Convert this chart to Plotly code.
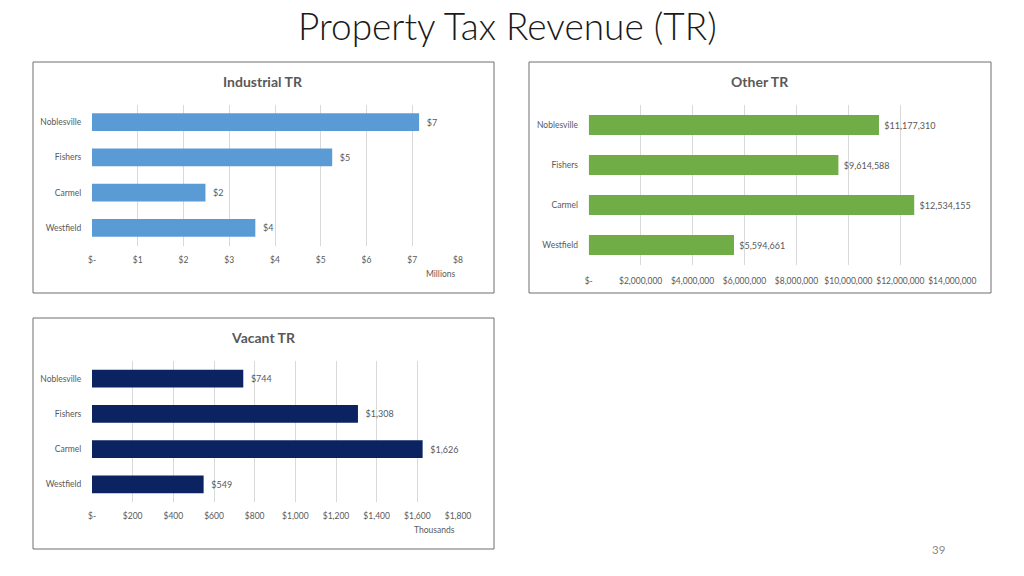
import plotly.graph_objects as go

W, H = 1024, 576

cities = ["Noblesville", "Fishers", "Carmel", "Westfield"]
industrial_millions = [7.15, 5.25, 2.48, 3.57]
other_dollars = [11177310, 9614588, 12534155, 5594661]
vacant_thousands = [744, 1308, 1626, 549]

ind_ticks = [0, 1, 2, 3, 4, 5, 6, 7, 8]
ind_ticktext = ["$-", "$1", "$2", "$3", "$4", "$5", "$6", "$7", "$8"]
oth_ticks = [0, 2e6, 4e6, 6e6, 8e6, 10e6, 12e6, 14e6]
oth_ticktext = ["$-", "$2,000,000", "$4,000,000", "$6,000,000", "$8,000,000",
                "$10,000,000", "$12,000,000", "$14,000,000"]
vac_ticks = [0, 200, 400, 600, 800, 1000, 1200, 1400, 1600, 1800]
vac_ticktext = ["$-", "$200", "$400", "$600", "$800", "$1,000", "$1,200",
                "$1,400", "$1,600", "$1,800"]

FONT = "Lato"
GRAY = "#595959"
GRID = "#d9d9d9"


def px(x):
    return x / W


def py(y):
    return 1 - y / H


fig = go.Figure()

panels = [
    dict(vals=industrial_millions, color="#5B9BD5", tmpl="\u00a0\u00a0$%{x:.0f}",
         xa="x", ya="y", xd=(92, 458), yd=(104.5, 245.5), rng=[0, 8],
         tv=ind_ticks, tt=ind_ticktext, tl=6),
    dict(vals=other_dollars, color="#70AD47", tmpl="\u00a0$%{x:,.0f}",
         xa="x2", ya="y2", xd=(588.7, 952.3), yd=(105, 265), rng=[0, 14e6],
         tv=oth_ticks, tt=oth_ticktext, tl=8),
    dict(vals=vacant_thousands, color="#0B2461", tmpl="\u00a0\u00a0$%{x:,.0f}",
         xa="x3", ya="y3", xd=(92, 458), yd=(361, 502), rng=[0, 1800],
         tv=vac_ticks, tt=vac_ticktext, tl=6),
]

layout_axes = {}
for i, p in enumerate(panels):
    fig.add_trace(go.Bar(
        x=p["vals"], y=cities, orientation="h", xaxis=p["xa"], yaxis=p["ya"],
        marker=dict(color=p["color"], line=dict(width=0)),
        width=0.5, texttemplate=p["tmpl"], textposition="outside",
        cliponaxis=False, textfont=dict(family=FONT, size=9, color=GRAY),
        showlegend=False, hoverinfo="skip",
    ))
    sfx = "" if i == 0 else str(i + 1)
    layout_axes["xaxis" + sfx] = dict(
        domain=[px(p["xd"][0]), px(p["xd"][1])], range=p["rng"],
        anchor=p["ya"], tickvals=p["tv"], ticktext=p["tt"], tickangle=0,
        showgrid=True, gridcolor=GRID, gridwidth=1, zeroline=False,
        showline=False, ticks="outside", ticklen=p["tl"], tickcolor="rgba(0,0,0,0)",
        tickfont=dict(family=FONT, size=8.5, color=GRAY),
        fixedrange=True, automargin=False,
    )
    layout_axes["yaxis" + sfx] = dict(
        domain=[py(p["yd"][1]), py(p["yd"][0])], anchor=p["xa"],
        categoryorder="array", categoryarray=cities, autorange="reversed",
        showgrid=False, zeroline=False, showline=False,
        ticks="outside", ticklen=8, tickcolor="rgba(0,0,0,0)",
        tickfont=dict(family=FONT, size=8.5, color=GRAY), fixedrange=True,
        automargin=False,
    )

fig.update_layout(**layout_axes)

shapes = []
for (x0, y0, x1, y1) in [(33, 62, 494, 293), (529, 62, 991, 293), (33, 318, 494, 549)]:
    shapes.append(dict(type="rect", xref="paper", yref="paper",
                       x0=px(x0), x1=px(x1), y0=py(y1), y1=py(y0),
                       line=dict(color="#6e6e6e", width=1), fillcolor="rgba(0,0,0,0)",
                       layer="below"))

annotations = [
    dict(text="Property Tax Revenue (TR)", x=px(507), y=py(26), xref="paper", yref="paper",
         showarrow=False, font=dict(family=FONT, size=37, color="#1a1a1a", weight=300),
         xanchor="center", yanchor="middle"),
    dict(text="<b>Industrial TR</b>", x=px(263), y=py(81), xref="paper", yref="paper",
         showarrow=False, font=dict(family=FONT, size=14, color=GRAY),
         xanchor="center", yanchor="middle"),
    dict(text="<b>Other TR</b>", x=px(760), y=py(81), xref="paper", yref="paper",
         showarrow=False, font=dict(family=FONT, size=14, color=GRAY),
         xanchor="center", yanchor="middle"),
    dict(text="<b>Vacant TR</b>", x=px(263), y=py(337), xref="paper", yref="paper",
         showarrow=False, font=dict(family=FONT, size=14, color=GRAY),
         xanchor="center", yanchor="middle"),
    dict(text="Millions", x=px(440), y=py(274), xref="paper", yref="paper",
         showarrow=False, font=dict(family=FONT, size=8.5, color=GRAY),
         xanchor="center", yanchor="middle"),
    dict(text="Thousands", x=px(434), y=py(530), xref="paper", yref="paper",
         showarrow=False, font=dict(family=FONT, size=8.5, color=GRAY),
         xanchor="center", yanchor="middle"),
    dict(text="39", x=px(938), y=py(549), xref="paper", yref="paper",
         showarrow=False, font=dict(family=FONT, size=11.5, color="#8a8a8a"),
         xanchor="center", yanchor="middle"),
]

fig.update_layout(
    width=W, height=H, margin=dict(l=0, r=0, t=0, b=0, autoexpand=False),
    paper_bgcolor="white", plot_bgcolor="white",
    shapes=shapes, annotations=annotations, bargap=0.5,
    font=dict(family=FONT, color=GRAY),
)

fig.write_html(
    "out.html",
    config={"displayModeBar": False, "staticPlot": True},
    post_script="document.body.style.margin='0';document.body.style.overflow='hidden';",
)
